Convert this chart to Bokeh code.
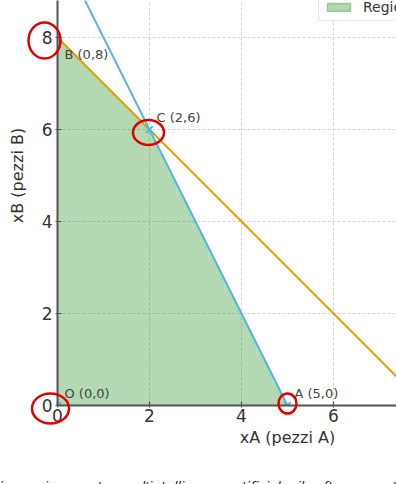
import math
from bokeh.plotting import figure
from bokeh.models import Range1d, FixedTicker, ColumnDataSource
from bokeh.core.properties import value
from bokeh.embed import file_html
from bokeh.resources import INLINE

# ---------------- data ----------------
vertex_names = ["O", "A", "C", "B"]
vertex_x = [0, 5, 2, 0]
vertex_y = [0, 0, 6, 8]

# constraint 1: xA + xB = 8 (orange)
line1_x = [0, 8]
line1_y = [8, 0]
# constraint 2: 2xA + xB = 10 (blue)
line2_x = [0, 5]
line2_y = [10, 0]

x_ticks = [0, 2, 4, 6, 8, 10]
y_ticks = [0, 2, 4, 6, 8, 10]
axis_full_range = [0, 10]

x_label = "xA (pezzi A)"
y_label = "xB (pezzi B)"
region_label = "Regione ammissibile"
caption = "immagine creata con l'intelligenza artificiale, il software usato è ChatGPT"

# ---------------- layout ----------------
W, H = 396, 484
LEFT, BOTTOM = 57, 79
PX = 46.0  # pixels per unit
FONT = "DejaVu Sans"

def dx(px):
    return px / PX

p = figure(width=W, height=H,
           x_range=Range1d(0, (W - LEFT) / PX),
           y_range=Range1d(0, (H - BOTTOM) / PX),
           min_border_left=LEFT, min_border_right=0,
           min_border_top=0, min_border_bottom=BOTTOM,
           output_backend="svg", toolbar_location=None,
           background_fill_color="white", border_fill_color="white",
           outline_line_color=None)

# feasible region
p.patch(vertex_x + [vertex_x[0]], vertex_y + [vertex_y[0]],
        fill_color="green", fill_alpha=0.3,
        line_color="green", line_alpha=0.3, line_width=1.5,
        legend_label=region_label)

# constraint lines
p.line(line1_x, line1_y, line_color="#E69F00", line_width=2)
p.line(line2_x, line2_y, line_color="#56B4E9", line_width=2)

# vertices
p.scatter(vertex_x, vertex_y, marker="x", size=9,
          line_color="#56B4E9", line_width=2)

ymax = max(vertex_y)
src = ColumnDataSource(dict(
    x=vertex_x, y=vertex_y,
    t=[f"{n} ({a},{b})" for n, a, b in zip(vertex_names, vertex_x, vertex_y)],
    yo=[17 if b == ymax else -12 for b in vertex_y],
))
p.text(x="x", y="y", text="t", source=src, x_offset=7, y_offset="yo",
       text_font=value(FONT), text_font_size="13px", text_color="#444444",
       text_align="left", text_baseline="middle")

# axes
for ax, ticks in ((p.xaxis, x_ticks), (p.yaxis, y_ticks)):
    ax.ticker = FixedTicker(ticks=ticks)
    ax.axis_line_color = "#555555"
    ax.axis_line_width = 2
    ax.major_tick_line_color = "#555555"
    ax.major_tick_line_width = 1.2
    ax.major_tick_in = 4
    ax.major_tick_out = 2
    ax.minor_tick_line_color = None
    ax.major_label_text_font = FONT
    ax.major_label_text_font_size = "17px"
    ax.major_label_text_color = "#333333"
p.xaxis.major_label_standoff = 1
p.yaxis.major_label_standoff = 3

for g in (p.xgrid, p.ygrid):
    g.grid_line_color = "#d4d4d4"
    g.grid_line_dash = "3 2"
    g.grid_line_width = 1

# axis titles centred on the full axis range (drawn outside the frame)
mid = (axis_full_range[0] + axis_full_range[1]) / 2
t1 = p.text(x=[mid], y=[-dx(32)], text=[x_label], text_font=value(FONT),
            text_font_size="16px", text_color="#333333",
            text_align="center", text_baseline="middle")
t1.level = "overlay"
t2 = p.text(x=[-dx(40)], y=[mid], text=[y_label], text_font=value(FONT),
            text_font_size="16px", text_color="#333333", angle=math.pi / 2,
            text_align="center", text_baseline="middle")
t2.level = "overlay"

# caption (cut by the bottom edge)
t3 = p.text(x=[-dx(LEFT + 1)], y=[-dx(486 - (H - BOTTOM))], text=[caption],
            text_font=value(FONT), text_font_size="13px",
            text_font_style="italic", text_color="#222222",
            text_align="left", text_baseline="alphabetic")
t3.level = "overlay"

# legend
lg = p.legend[0]
lg.location = (261, 384)
lg.label_text_font = FONT
lg.label_text_font_size = "14px"
lg.label_text_color = "#333333"
lg.glyph_width = 29
lg.glyph_height = 10
lg.label_standoff = 10
lg.padding = 5
lg.spacing = 0
lg.margin = 0
lg.border_line_color = "#cccccc"
lg.border_line_width = 1
lg.background_fill_alpha = 0.8

# hand-drawn red highlights (anchor, pixel shift, size)
highlights = [
    (0, 8, -13, -3, 32, 36),
    (2, 6, -1, -3, 31, 25),
    (5, 0, 0, 2, 18, 20),
    (0, 0, -7, -3, 37, 30),
]
hx = [a + dx(sx) for a, b, sx, sy, w, h in highlights]
hy = [b + dx(sy) for a, b, sx, sy, w, h in highlights]
hw = [w for *_, w, h in highlights]
hh = [h for *_, w, h in highlights]
r = p.ellipse(x=hx, y=hy, width=hw, height=hh,
              width_units="screen", height_units="screen",
              fill_color=None, line_color="#e00000", line_width=2.5)
r.level = "overlay"

open("out.html", "w").write(file_html(p, INLINE))
